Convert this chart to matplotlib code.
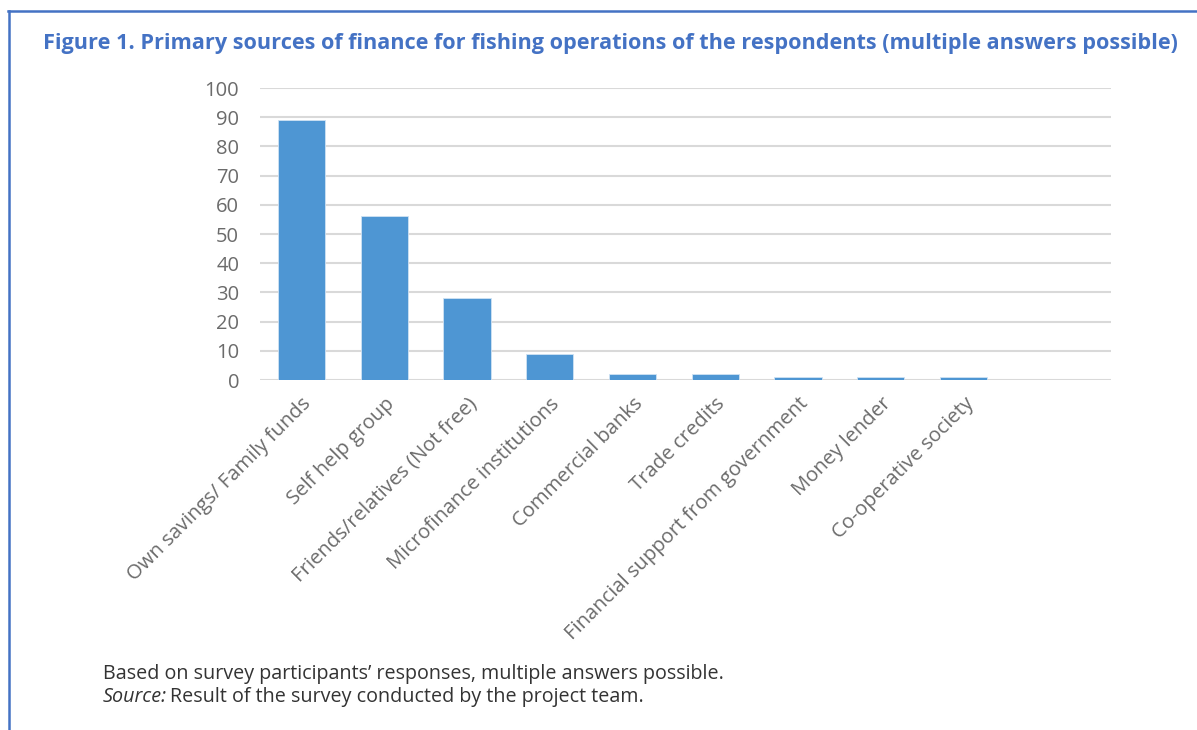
import numpy as np
import matplotlib
matplotlib.use('Agg')
import matplotlib.pyplot as plt
from matplotlib.lines import Line2D

#~~~~~~~~ Data ~~~~~~~~~~~~
sources = ['Own savings/ Family funds', 'Self help group', 'Friends/relatives (Not free)',
           'Microfinance institutions', 'Commercial banks', 'Trade credits',
           'Financial support from government', 'Money lender', 'Co-operative society']
share = [89, 56, 28, 9, 2, 2, 1, 1, 1]
yticks = list(range(0, 101, 10))
#~~~~~~~~~~~~~~~~~~~~~~~~~~~

blue = '#4472C4'
bar_col = '#4E96D3'
tick_col = '#6b6b6b'

plt.rcParams['font.family'] = ['Open Sans', 'DejaVu Sans']

fig = plt.figure(figsize=(11.97, 7.30), dpi=100)
ax = fig.add_axes([260/1197, 350/730, 851/1197, 292/730])

x = np.arange(len(sources))
ax.bar(x, share, width=0.57, color=bar_col, edgecolor='#cfe2f3', linewidth=0.6, zorder=3)

ax.set_ylim(0, 100)
ax.set_xlim(-0.5, 9.78)
ax.set_yticks(yticks)
ax.set_yticklabels([str(t) for t in yticks], fontsize=14.5, color=tick_col)
ax.set_xticks(x)
ax.set_xticklabels(sources, rotation=45, ha='right', rotation_mode='anchor',
                   fontsize=14.6, color=tick_col)
ax.tick_params(axis='both', length=0)
ax.tick_params(axis='y', pad=15)
ax.tick_params(axis='x', pad=10)
ax.yaxis.grid(True, color='#d9d9d9', lw=1.5, zorder=0)
for s in ax.spines.values():
    s.set_visible(False)

# frame lines round the figure
fig.add_artist(Line2D([8.5/1197, 8.5/1197], [0, 1 - 11/730], color=blue, lw=1.8))
fig.add_artist(Line2D([8/1197, 1], [1 - 11/730, 1 - 11/730], color=blue, lw=1.8))

fig.text(43/1197, 1 - 44/730,
         'Figure 1. Primary sources of finance for fishing operations of the respondents (multiple answers possible)',
         fontsize=15.55, fontweight='bold', color=blue, va='center', ha='left')

fig.text(103/1197, 1 - 674/730,
         'Based on survey participants\u2019 responses, multiple answers possible.',
         fontsize=14.2, color='#333333', va='center', ha='left')
src = fig.text(103/1197, 1 - 697/730, 'Source:', fontsize=14.2, style='italic',
               color='#333333', va='center', ha='left')
fig.add_artist(plt.Annotation('Result of the survey conducted by the project team.',
                              xy=(1, 0.5), xycoords=src, xytext=(3, 0),
                              textcoords='offset pixels', va='center', ha='left',
                              fontsize=14.2, color='#333333'))

fig.savefig('out.png', dpi=100)
